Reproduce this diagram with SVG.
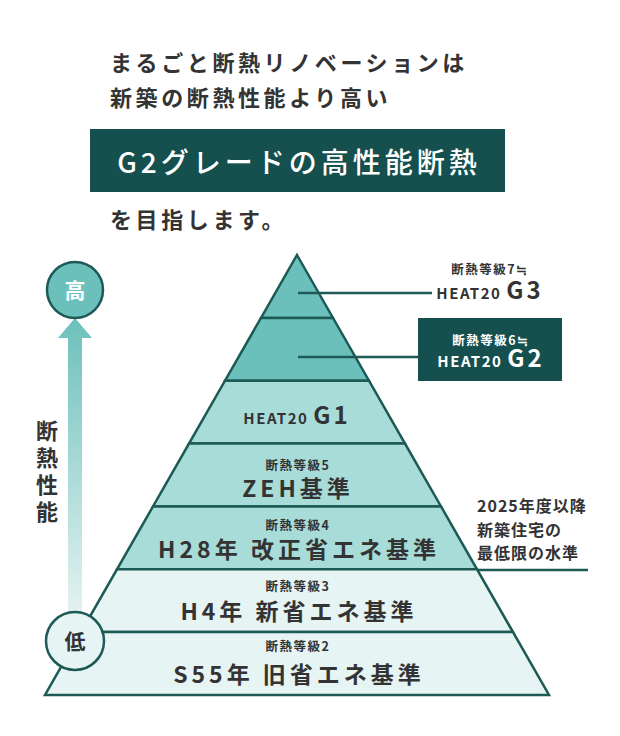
<svg xmlns="http://www.w3.org/2000/svg" width="620" height="736" viewBox="0 0 620 736">
<style>
text{font-family:"Noto Sans CJK JP","Noto Sans",sans-serif;font-weight:700;fill:#333}
.head{font-size:22px;letter-spacing:3.6px}
.lyr{stroke:#1d5a55;stroke-width:2.5;stroke-linejoin:miter}
.c1{fill:#6cc0bb}.c2{fill:#a8dcd9}.c3{fill:#e6f4f3}
.sm{font-size:12.5px;letter-spacing:1.5px}
.big{font-size:23px;letter-spacing:4px}
.heat{font-size:15px;letter-spacing:1.5px}
.g{font-size:24px;letter-spacing:3px}
.w{fill:#fff}
.conn{stroke:#1d5a55;stroke-width:2.5;fill:none}
</style>
<defs>
<linearGradient id="ag" x1="0" y1="318" x2="0" y2="612" gradientUnits="userSpaceOnUse">
<stop offset="0" stop-color="#6cc0bb"/>
<stop offset="1" stop-color="#e3f2f1"/>
</linearGradient>
</defs>
<rect width="620" height="736" fill="#fff"/>

<g id="heading">
<text class="head" x="110" y="71">まるごと断熱リノベーションは</text>
<text class="head" x="110" y="106">新築の断熱性能より高い</text>
<rect x="90" y="129" width="415" height="63" fill="#15504f"/>
<text class="w" x="299" y="173" text-anchor="middle" style="font-size:28px;letter-spacing:4px;font-weight:500">G2グレードの高性能断熱</text>
<text class="head" x="110" y="228">を目指します。</text>
</g>

<g id="axis">
<path d="M68,338 H58 L75,318 L92,338 H82 V612 H68 Z" fill="url(#ag)"/>
<text x="47" y="439" text-anchor="middle" style="font-size:22px">断</text>
<text x="47" y="466" text-anchor="middle" style="font-size:22px">熱</text>
<text x="47" y="493" text-anchor="middle" style="font-size:22px">性</text>
<text x="47" y="520" text-anchor="middle" style="font-size:22px">能</text>
</g>

<g id="pyramid">
<g id="layer-g3"><polygon class="lyr c1" points="297,255 333,317.9 261,317.9"/></g>
<g id="layer-g2"><polygon class="lyr c1" points="261,317.9 333,317.9 369,380.7 225,380.7"/></g>
<g id="layer-g1"><polygon class="lyr c2" points="225,380.7 369,380.7 405,443.6 189,443.6"/>
<text x="297" y="424" text-anchor="middle"><tspan class="heat">HEAT20 </tspan><tspan class="g">G1</tspan></text></g>
<g id="layer-zeh"><polygon class="lyr c2" points="189,443.6 405,443.6 441,506.4 153,506.4"/>
<text class="sm" x="298" y="470" text-anchor="middle">断熱等級5</text>
<text class="big" x="298" y="497" text-anchor="middle">ZEH基準</text></g>
<g id="layer-h28"><polygon class="lyr c2" points="153,506.4 441,506.4 477,569.3 117,569.3"/>
<text class="sm" x="298" y="530" text-anchor="middle">断熱等級4</text>
<text class="big" x="299" y="558" text-anchor="middle">H28年 改正省エネ基準</text></g>
<g id="layer-h4"><polygon class="lyr c3" points="117,569.3 477,569.3 513,632.1 81,632.1"/>
<text class="sm" x="298" y="591" text-anchor="middle">断熱等級3</text>
<text class="big" x="299" y="620" text-anchor="middle">H4年 新省エネ基準</text></g>
<g id="layer-s55"><polygon class="lyr c3" points="81,632.1 513,632.1 549,695 45,695"/>
<text class="sm" x="298" y="651" text-anchor="middle">断熱等級2</text>
<text class="big" x="299" y="683" text-anchor="middle">S55年 旧省エネ基準</text></g>
</g>

<g id="connectors">
<line class="conn" x1="298" y1="293" x2="432" y2="293"/>
<line class="conn" x1="298" y1="357" x2="418" y2="357"/>
<line class="conn" x1="477" y1="570" x2="588" y2="570"/>
</g>

<g id="label-g3">
<text class="sm" x="490" y="274" text-anchor="middle">断熱等級7≒</text>
<text x="490" y="299" text-anchor="middle"><tspan class="heat">HEAT20 </tspan><tspan class="g">G3</tspan></text>
</g>

<g id="label-g2">
<rect x="418" y="318" width="144" height="63" fill="#15504f"/>
<text class="sm w" x="491" y="345" text-anchor="middle">断熱等級6≒</text>
<text x="491" y="367" text-anchor="middle"><tspan class="heat w">HEAT20 </tspan><tspan class="g w">G2</tspan></text>
</g>

<g id="label-2025">
<text x="477" y="512" style="font-size:16px;letter-spacing:1px">2025年度以降</text>
<text x="477" y="536" style="font-size:16px;letter-spacing:1px">新築住宅の</text>
<text x="477" y="559" style="font-size:16px;letter-spacing:1px">最低限の水準</text>
</g>

<g id="high">
<circle cx="75" cy="290" r="28" fill="#6cc0bb" stroke="#1d5a55" stroke-width="2.5"/>
<text class="w" x="75" y="298" text-anchor="middle" style="font-size:21px">高</text>
</g>
<g id="low">
<circle cx="75" cy="641" r="29" fill="#e6f4f3" stroke="#1d5a55" stroke-width="2.5"/>
<text x="75" y="649" text-anchor="middle" style="font-size:21px">低</text>
</g>
</svg>
